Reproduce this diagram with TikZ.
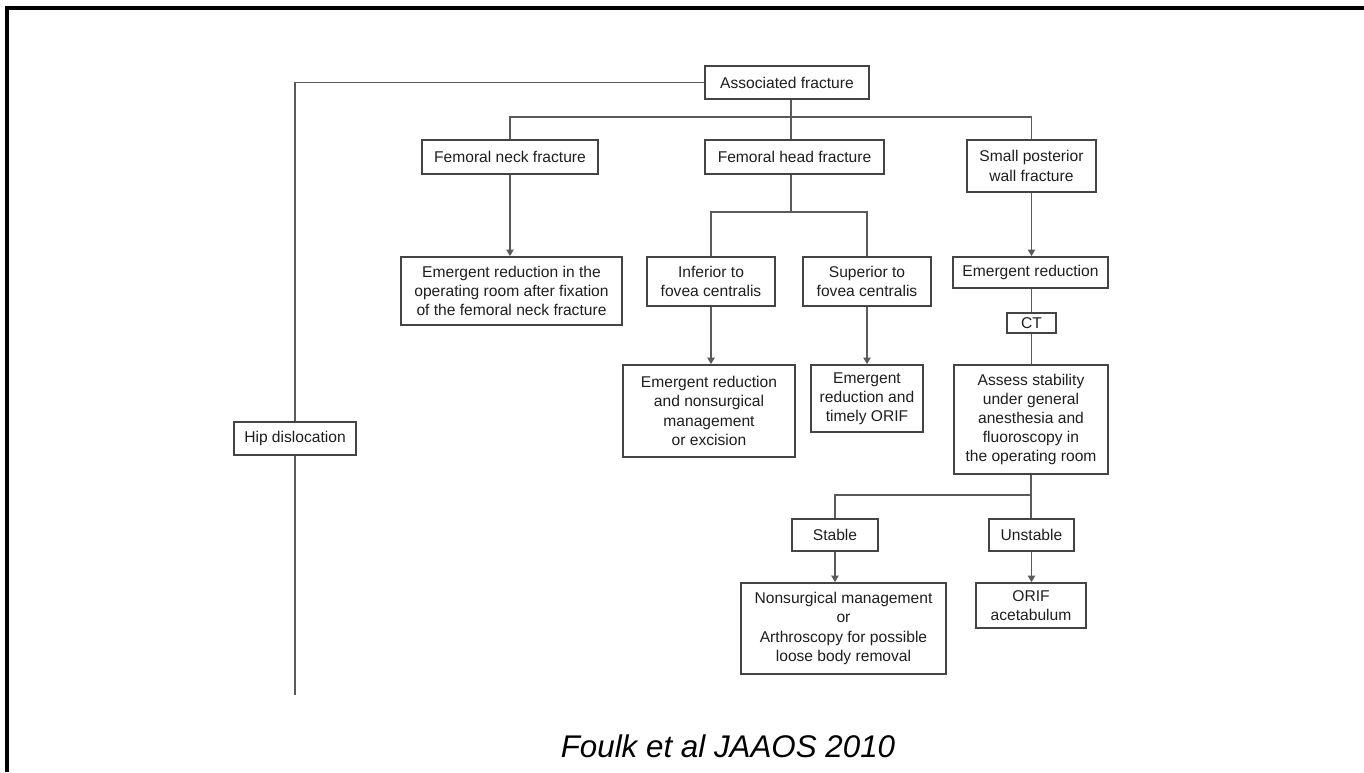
\documentclass[tikz,border=0pt]{standalone}
\usepackage{fontspec}
\setmainfont{Liberation Sans}
\usetikzlibrary{arrows.meta}
\definecolor{linegray}{HTML}{5A5A5A}
\definecolor{boxgray}{HTML}{444444}
\definecolor{txtgray}{HTML}{1E1E1E}
\tikzset{
  box/.style={draw=boxgray, line width=1.25pt, rectangle, inner sep=0pt, align=center,
    text=txtgray, font=\fontsize{11.7}{14.4}\selectfont},
  sz/.style 2 args={minimum width=#1*0.75pt, minimum height=#2*0.75pt},
  conn/.style={draw=linegray, line width=1.25pt},
  arr/.style={conn, -{Triangle[length=5pt,width=5.5pt]}},
}
\begin{document}
\begin{tikzpicture}[x=0.75pt,y=-0.75pt]
\useasboundingbox (0,0) rectangle (1364,772);
% frame
\draw[black, line width=2.4pt] (7,772) -- (7,8) -- (1364,8);

% nodes
\node[box, sz={164}{33}] (assoc) at (787,82.5) {Associated fracture};
\node[box, sz={176}{34}] (neck) at (510,157) {Femoral neck fracture};
\node[box, sz={179}{34}] (head) at (794.5,157) {Femoral head fracture};
\node[box, sz={129}{52}] (small) at (1031.5,166) {Small posterior\\wall fracture};
\node[box, sz={221}{68}] (emneck) at (511.5,291) {Emergent reduction in the\\operating room after fixation\\of the femoral neck fracture};
\node[box, sz={128}{49}] (inf) at (711,281.5) {Inferior to\\fovea centralis};
\node[box, sz={128}{49}] (sup) at (867,281.5) {Superior to\\fovea centralis};
\node[box, sz={155}{31}] (emred) at (1030.5,272.5) {Emergent reduction};
\node[box, sz={49}{20}] (ct) at (1031.5,323) {CT};
\node[box, sz={172}{92}] (emnon) at (709,411) {Emergent reduction\\and nonsurgical\\management\\or excision};
\node[box, sz={112}{67}] (timely) at (867,398.5) {Emergent\\reduction and\\timely ORIF};
\node[box, sz={154}{109}] (assess) at (1031,419.5) {Assess stability\\under general\\anesthesia and\\fluoroscopy in\\the operating room};
\node[box, sz={86}{32}] (stable) at (835,535) {Stable};
\node[box, sz={85}{32}] (unstable) at (1031.5,535) {Unstable};
\node[box, sz={205}{91}] (nonsurg) at (843.5,628.5) {Nonsurgical management\\or\\Arthroscopy for possible\\loose body removal};
\node[box, sz={110}{45}] (orif) at (1031,605.5) {ORIF\\acetabulum};
\node[box, sz={122}{33}] (hip) at (295,438.5) {Hip dislocation};

\node[font=\fontsize{23.5}{26}\selectfont\itshape, text=black, inner sep=0pt, anchor=base] (cap) at (728,757) {Foulk et al JAAOS 2010};

% helper coordinates
\coordinate (trunk) at (791,117);
\coordinate (headsplit) at (791,212);
\coordinate (assesssplit) at (1031,495);
\coordinate (hipend) at (295,695);

% connectors
\draw[conn] (assoc.west) -| (hip.north);
\draw[conn] (hip.south) -- (hipend);
\draw[conn] (assoc.south -| trunk) -- (head.north -| trunk);
\draw[conn] (neck.north) |- (trunk) -| (small.north);
\draw[conn] (head.south -| headsplit) -- (headsplit);
\draw[conn] (inf.north) |- (headsplit) -| (sup.north);
\draw[arr] (neck.south) -- (emneck.north -| neck.south);
\draw[arr] (inf.south) -- (emnon.north -| inf.south);
\draw[arr] (sup.south) -- (timely.north);
\draw[arr] (small.south) -- (emred.north -| small.south);
\draw[conn] (emred.south -| ct.north) -- (ct.north);
\draw[conn] (ct.south) -- (assess.north -| ct.south);
\draw[conn] (assess.south) -- (unstable.north -| assess.south);
\draw[conn] (assesssplit) -| (stable.north);
\draw[arr] (stable.south) -- (nonsurg.north -| stable.south);
\draw[arr] (unstable.south) -- (orif.north -| unstable.south);
\end{tikzpicture}
\end{document}
